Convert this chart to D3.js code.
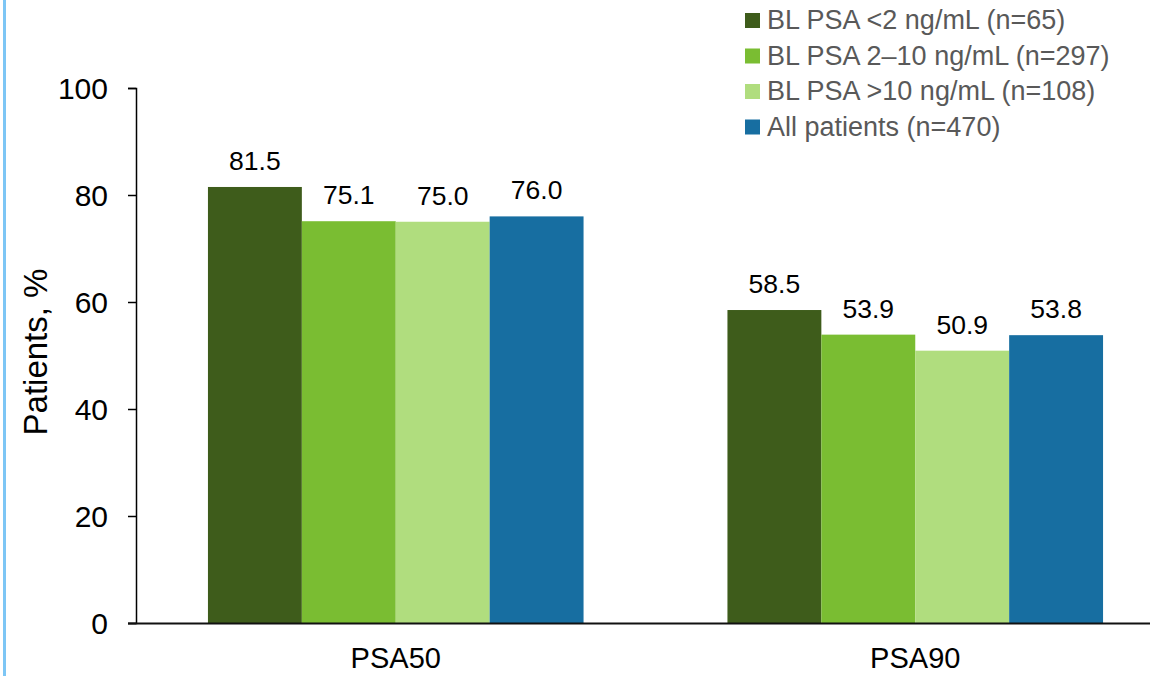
<!DOCTYPE html>
<html>
<head>
<meta charset="utf-8">
<script src="https://cdn.jsdelivr.net/npm/d3@7"></script>
<style>
  body { margin: 0; background: #fff; }
  svg { display: block; font-family: "Liberation Sans", Arial, sans-serif; }
</style>
</head>
<body>
<script>
// chart data
const categories = ['PSA50', 'PSA90'];
const seriesNames = [
    'BL PSA <2 ng/mL (n=65)',
    'BL PSA 2\u201310 ng/mL (n=297)',
    'BL PSA >10 ng/mL (n=108)',
    'All patients (n=470)'
];
const seriesColors = ['#3e5c1b', '#7abd32', '#b0dd7e', '#176ea1'];
const psa50Values = [81.5, 75.1, 75.0, 76.0];
const psa90Values = [58.5, 53.9, 50.9, 53.8];
const yTicks = [0, 20, 40, 60, 80, 100];

const data = categories.map((c, i) => ({
    key: c,
    values: (i === 0 ? psa50Values : psa90Values).map((v, j) => ({ series: seriesNames[j], value: v }))
}));

const outerW = 1150,
    outerH = 676;

const svg = d3.select('body').append('svg')
    .attr('width', outerW)
    .attr('height', outerH);

// thin blue rule on the left edge
svg.append('rect')
    .attr('x', 3)
    .attr('y', 0)
    .attr('width', 3)
    .attr('height', outerH)
    .style('fill', '#7dc6f5');

const x0 = d3.scaleBand()
    .domain(categories)
    .range([136, 1175])
    .paddingInner(0.277)
    .paddingOuter(0.1385);

const x1 = d3.scaleBand()
    .domain(seriesNames)
    .range([0, x0.bandwidth()]);

const y = d3.scaleLinear()
    .domain([0, 100])
    .range([623, 88]);

const color = d3.scaleOrdinal().domain(seriesNames).range(seriesColors);

// Bars
const groups = svg.selectAll('.group')
    .data(data)
    .enter().append('g')
    .attr('class', 'group')
    .attr('transform', d => 'translate(' + x0(d.key) + ',0)');

groups.selectAll('rect')
    .data(d => d.values)
    .enter().append('rect')
    .attr('x', d => x1(d.series))
    .attr('y', d => y(d.value))
    .attr('width', x1.bandwidth())
    .attr('height', d => y(0) - y(d.value))
    .style('fill', d => color(d.series));

groups.selectAll('.val')
    .data(d => d.values)
    .enter().append('text')
    .attr('class', 'val')
    .attr('x', d => x1(d.series) + x1.bandwidth() / 2)
    .attr('y', d => y(d.value) - 17)
    .attr('text-anchor', 'middle')
    .style('font-size', '26.5px')
    .style('fill', '#000')
    .text(d => d.value.toFixed(1));

// Axes
const yAxis = svg.append('g')
    .attr('transform', 'translate(136,0)')
    .call(d3.axisLeft(y)
        .tickValues(yTicks)
        .tickSize(8)
        .tickSizeOuter(8)
        .tickPadding(20));

yAxis.select('.domain').attr('stroke', '#000').attr('stroke-width', 1.5);
yAxis.selectAll('.tick line').attr('stroke', '#000').attr('stroke-width', 1.5);
yAxis.selectAll('.tick text')
    .style('font-size', '30px')
    .style('font-family', '"Liberation Sans", Arial, sans-serif')
    .attr('dy', '0.36em')
    .style('fill', '#000');

const xAxis = svg.append('g')
    .attr('transform', 'translate(0,623)')
    .call(d3.axisBottom(x0)
        .tickSize(0)
        .tickSizeOuter(0)
        .tickPadding(24));

xAxis.select('.domain')
    .attr('d', 'M128,0.5H1175')
    .attr('stroke', '#111')
    .attr('stroke-width', 2);
xAxis.selectAll('.tick text')
    .style('font-size', '29px')
    .style('font-family', '"Liberation Sans", Arial, sans-serif')
    .style('fill', '#000');

// Y axis title
svg.append('text')
    .attr('transform', 'translate(47,352) rotate(-90)')
    .attr('text-anchor', 'middle')
    .style('font-size', '33px')
    .style('fill', '#000')
    .text('Patients, %');

// Legend
const legend = svg.append('g')
    .attr('transform', 'translate(745,13)');

const items = legend.selectAll('.item')
    .data(seriesNames)
    .enter().append('g')
    .attr('class', 'item')
    .attr('transform', (d, i) => 'translate(0,' + i * 35.5 + ')');

items.append('rect')
    .attr('width', 15)
    .attr('height', 15)
    .style('fill', d => color(d));

items.append('text')
    .attr('x', 22)
    .attr('y', 16)
    .style('font-size', '27px')
    .style('fill', '#595959')
    .text(d => d);
</script>
</body>
</html>
